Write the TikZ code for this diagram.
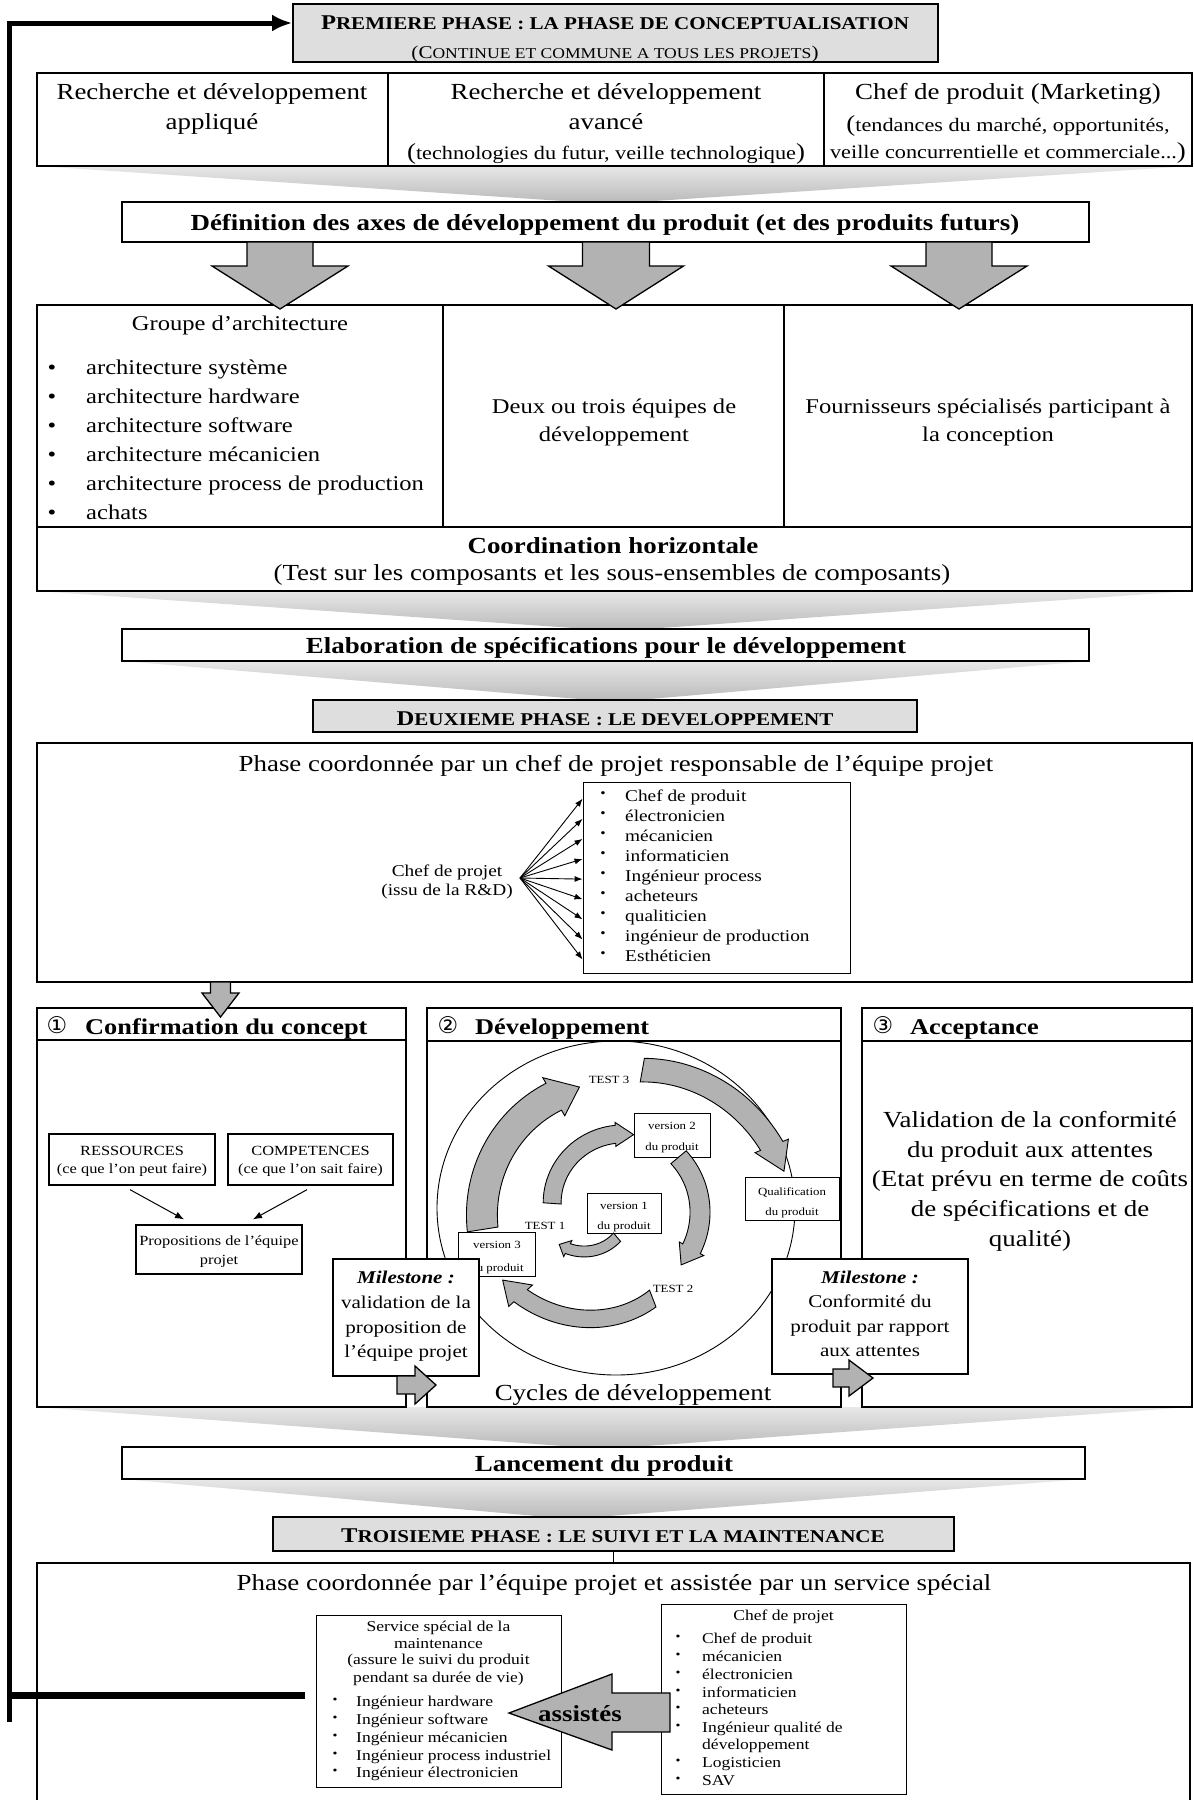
\documentclass[tikz,border=0pt]{standalone}
\usepackage{fontspec}
\setmainfont{Liberation Serif}[FakeStretch=1.17]
\newfontfamily\symf{DejaVu Sans}
\usetikzlibrary{arrows.meta,calc}
\newcommand\myfs[2]{\fontsize{#1}{#2}\selectfont}
\newcommand\mkbox[6]{\node[#1, minimum width={(#4-#2)*1pt}, minimum height={(#5-#3)*1pt}] (#6) at ({(#2+#4)/2},{(#3+#5)/2}) {};}
\newcommand\dnarrow[6]{\draw[barrow] ({#1-#5},#2) -- ({#1+#5},#2) -- ({#1+#5},#3) -- ({#1+#6},#3) -- (#1,#4) -- ({#1-#6},#3) -- ({#1-#5},#3) -- cycle;}
\newcommand\rtarrow[6]{\draw[barrow] (#1,{#4-#5}) -- (#2,{#4-#5}) -- (#2,{#4-#6}) -- (#3,#4) -- (#2,{#4+#6}) -- (#2,{#4+#5}) -- (#1,{#4+#5}) -- cycle;}
\newcommand\sparr[9]{%
  \pgfmathsetmacro\spk{(#7-#6)/(#5-#3)}%
  \pgfmathsetmacro\sprb{#6+\spk*(#4-#3)}%
  \filldraw[cyc] plot[domain=#3:#4, samples=40] ({#1+(#6+\spk*(\x-#3)+#8)*cos(\x)}, {#2-(#6+\spk*(\x-#3)+#8)*sin(\x)})
    -- ({#1+(\sprb+#9)*cos(#4)}, {#2-(\sprb+#9)*sin(#4)})
    -- ({#1+#7*cos(#5)}, {#2-#7*sin(#5)})
    -- ({#1+(\sprb-#9)*cos(#4)}, {#2-(\sprb-#9)*sin(#4)})
    -- plot[domain=#4:#3, samples=40] ({#1+(#6+\spk*(\x-#3)-#8)*cos(\x)}, {#2-(#6+\spk*(\x-#3)-#8)*sin(\x)})
    -- cycle;}
\begin{document}
\begin{tikzpicture}[x=1pt,y=-1pt,
  box/.style={draw, line width=1.8pt, fill=white, inner sep=0},
  sbox/.style={draw, line width=1.3pt, fill=white, inner sep=0},
  tbox/.style={draw, line width=0.9pt, fill=white, inner sep=0},
  hdr/.style={draw, line width=1.8pt, fill=black!13, inner sep=0},
  tx/.style={inner sep=0, anchor=base},
  txw/.style={inner sep=0, anchor=base west},
  barrow/.style={draw, line width=1.3pt, fill=black!30, line join=miter},
  cyc/.style={draw, line width=0.9pt, fill=black!30},
  funnel/.style={top color=black!9, bottom color=black!28},
  thinl/.style={line width=0.9pt},
  divl/.style={line width=1.8pt},
  f23/.style={font=\myfs{23}{28}},
  f23b/.style={font=\bfseries\myfs{23}{28}},
  f21/.style={font=\myfs{21}{25}},
  f19/.style={font=\myfs{19}{23}},
  f18/.style={font=\myfs{18}{22}},
  f16/.style={font=\myfs{16.5}{19}},
  f15/.style={font=\myfs{15}{18}},
  f14/.style={font=\myfs{14}{17}},
  f11/.style={font=\myfs{11}{13}},
  num/.style={inner sep=0, anchor=base, font=\symf\myfs{23}{23}},
  colh/.style={inner sep=0, anchor=base west, font=\bfseries\myfs{22.5}{26}},
]
\useasboundingbox[fill=white] (0,0) rectangle (1194,1800);

% funnels
\shade[funnel] (37,166) -- (1192,166) -- (608,204) -- cycle;
\shade[funnel] (37,591) -- (1192,591) -- (617,631) -- cycle;
\shade[funnel] (122,661) -- (1089,661) -- (615,702) -- cycle;
\shade[funnel] (37,1407) -- (1192,1407) -- (604,1449) -- cycle;
\shade[funnel] (122,1479) -- (1085,1479) -- (570,1519) -- cycle;

% ---------- phase 1 ----------
\mkbox{hdr}{293}{4}{938}{62}{hdrA}
\node[tx] (hA1) at (615,29) {\bfseries{\myfs{21}{21}P}{\myfs{18}{18}REMIERE PHASE : LA PHASE DE CONCEPTUALISATION}};
\node[tx] (hA2) at (615,58) {{\myfs{18}{18}(C}{\myfs{15}{15}ONTINUE ET COMMUNE A TOUS LES PROJETS}{\myfs{18}{18})}};

\mkbox{box}{37}{73}{1192}{166}{rowA}
\draw[divl] (388,73) -- (388,166);
\draw[divl] (824,73) -- (824,166);
\node[tx,f23] (r1a) at (212,99) {Recherche et développement};
\node[tx,f23] (r1b) at (212,129) {appliqué};
\node[tx,f23] (r2a) at (606,99) {Recherche et développement};
\node[tx,f23] (r2b) at (606,129) {avancé};
\node[tx,f19] (r2c) at (606,159) {{\myfs{23}{23}(}technologies du futur, veille technologique{\myfs{23}{23})}};
\node[tx,f23] (r3a) at (1008,99) {Chef de produit (Marketing)};
\node[tx,f19] (r3b) at (1008,131) {{\myfs{23}{23}(}tendances du marché, opportunités,};
\node[tx,f19] (r3c) at (1008,158) {veille concurrentielle et commerciale...{\myfs{23}{23})}};

\mkbox{box}{122}{202}{1089}{242}{defin}
\node[tx,f23b] (defint) at (605,230) {Définition des axes de développement du produit (et des produits futurs)};

\mkbox{box}{37}{305}{1192}{591}{rowB}
\draw[divl] (37,527) -- (1192,527);
\draw[divl] (443,305) -- (443,527);
\draw[divl] (784,305) -- (784,527);
\dnarrow{280}{242}{266}{309}{33}{68}
\dnarrow{616}{242}{266}{309}{33.5}{67.5}
\dnarrow{959}{242}{266}{309}{33}{68}

\node[tx,f21] (grp) at (240,330) {Groupe d’architecture};
\foreach \lbl/\yy [count=\i] in {architecture système/374, architecture hardware/403, architecture software/432, architecture mécanicien/461, architecture process de production/490, achats/519}{
  \node[tx,f21] (gb\i) at (52,\yy) {•};
  \node[txw,f21] (gi\i) at (86,\yy) {\lbl};
}
\node[tx,f21] (deux1) at (614,413) {Deux ou trois équipes de};
\node[tx,f21] (deux2) at (614,441) {développement};
\node[tx,f21] (four1) at (988,413) {Fournisseurs spécialisés participant à};
\node[tx,f21] (four2) at (988,441) {la conception};
\node[tx,f23b] (coord1) at (613,553) {Coordination horizontale};
\node[tx,f23] (coord2) at (612,580) {(Test sur les composants et les sous-ensembles de composants)};

\mkbox{box}{122}{629}{1089}{661}{elab}
\node[tx,f23b] (elabt) at (606,653) {Elaboration de spécifications pour le développement};

% ---------- phase 2 ----------
\mkbox{hdr}{313}{700}{917}{732}{hdrB}
\node[tx] (hB) at (615,725) {\bfseries{\myfs{21}{21}D}{\myfs{18}{18}EUXIEME PHASE : LE DEVELOPPEMENT}};

\mkbox{box}{37}{743}{1192}{982}{ph2}
\node[tx,f23] (ph2t) at (616,771) {Phase coordonnée par un chef de projet responsable de l’équipe projet};
\node[tx,f16] (chefp) at (447,876) {Chef de projet};
\node[tx,f16] (issu) at (447,895) {(issu de la R\&D)};
\coordinate (hub) at (520,878);
\mkbox{tbox}{583}{782}{850}{973}{lst}
\foreach \lbl [count=\i] in {Chef de produit, électronicien, mécanicien, informaticien, Ingénieur process, acheteurs, qualiticien, ingénieur de production, Esthéticien}{
  \pgfmathsetmacro\yy{801+20.1*(\i-1)}
  \node[tx,font=\myfs{13}{13}] (lb\i) at (603,{\yy-4}) {•};
  \node[txw,f16] (li\i) at (625,\yy) {\lbl};
  \draw[thinl,-{Latex[length=8pt,width=6pt]}] (hub) -- (lst.west |- li\i.mid);
}

% ---------- three columns ----------
\mkbox{box}{37}{1008}{406}{1407}{colA}
\draw[divl] (37,1040) -- (406,1040);
\mkbox{box}{427}{1008}{841}{1407}{colB}
\draw[divl] (427,1041) -- (841,1041);
\mkbox{box}{862}{1008}{1192}{1407}{colC}
\draw[divl] (862,1041) -- (1192,1041);
\dnarrow{220.5}{982}{993}{1017}{10}{18.5}

\node[num] (n1) at (57,1033) {①};
\node[colh] (hcA) at (85,1034) {Confirmation du concept};
\node[num] (n2) at (448,1033) {②};
\node[colh] (hcB) at (475,1034) {Développement};
\node[num] (n3) at (883,1033) {③};
\node[colh] (hcC) at (910,1034) {Acceptance};

% column 1
\mkbox{sbox}{49}{1134}{215}{1185}{res}
\node[tx,f14] (res1) at (132,1155) {RESSOURCES};
\node[tx,f14] (res2) at (132,1173) {(ce que l’on peut faire)};
\mkbox{sbox}{228}{1134}{393}{1185}{comp}
\node[tx,f14] (comp1) at (310.5,1155) {COMPETENCES};
\node[tx,f14] (comp2) at (310.5,1173) {(ce que l’on sait faire)};
\mkbox{sbox}{136}{1225}{302}{1274}{prop}
\node[tx,f14] (prop1) at (219,1245) {Propositions de l’équipe};
\node[tx,f14] (prop2) at (219,1264) {projet};
\draw[line width=1pt,-{Latex[length=9pt,width=7pt]}] ($(res.south)+(-2,4)$) -- ($(prop.north)+(-35,-5)$);
\draw[line width=1pt,-{Latex[length=9pt,width=7pt]}] ($(comp.south)+(-3.5,4)$) -- ($(prop.north)+(34,-5)$);

% column 2 : cycles
\draw[thinl] (616,1208) ellipse [x radius=179, y radius=167];
\mkbox{tbox}{634}{1113}{710}{1157}{v2}
\node[tx,f11] (v2a) at (672,1129) {version 2};
\node[tx,f11] (v2b) at (672,1150) {du produit};
\mkbox{tbox}{745}{1177}{839}{1220}{qual}
\node[tx,f11] (qa) at (792,1195) {Qualification};
\node[tx,f11] (qb) at (792,1215) {du produit};
\mkbox{tbox}{587}{1193}{661}{1233}{v1}
\node[tx,f11] (v1a) at (624,1209) {version 1};
\node[tx,f11] (v1b) at (624,1229) {du produit};
\mkbox{tbox}{458}{1232}{535}{1276}{v3}
\node[tx,f11] (v3a) at (497,1248) {version 3};
\node[tx,f11] (v3b) at (497,1271) {du produit};
\node[tx,f11] (t1) at (545,1229) {TEST 1};
\node[tx,f11] (t2) at (673,1292) {TEST 2};
\node[tx,f11] (t3) at (609,1083) {TEST 3};
\sparr{618}{1208}{189}{120}{107.7}{137}{127}{15.5}{22}
\sparr{618}{1208}{80}{22}{12.5}{140}{170}{12}{18}
\sparr{618}{1208}{291}{222}{212}{97}{136}{9}{16}
\sparr{590}{1205}{310}{243}{232}{42}{50}{5.5}{9}
\sparr{618}{1208}{176}{92}{78}{66}{75}{9}{12}
\sparr{618}{1208}{40}{-29}{-42}{79}{85}{10}{14}
\node[tx,f23] (cyc) at (633,1400) {Cycles de développement};

% milestones
\mkbox{sbox}{333}{1259}{479}{1376}{ms1}
\node[tx,f18] (ms1a) at (406,1283) {\bfseries\itshape Milestone :};
\node[tx,f18] (ms1b) at (406,1308) {validation de la};
\node[tx,f18] (ms1c) at (406,1333) {proposition de};
\node[tx,f18] (ms1d) at (406,1357) {l’équipe projet};
\rtarrow{397}{415}{436}{1385}{9}{19}
\mkbox{sbox}{772}{1259}{968}{1374}{ms2}
\node[tx,f18] (ms2a) at (870,1283) {\bfseries\itshape Milestone :};
\node[tx,f18] (ms2b) at (870,1307) {Conformité du};
\node[tx,f18] (ms2c) at (870,1332) {produit par rapport};
\node[tx,f18] (ms2d) at (870,1356) {aux attentes};
\rtarrow{833}{849}{873}{1378}{9}{18}

% column 3
\node[tx,f23] (acc1) at (1030,1127) {Validation de la conformité};
\node[tx,f23] (acc2) at (1030,1157) {du produit aux attentes};
\node[tx,f23] (acc3) at (1030,1186) {(Etat prévu en terme de coûts};
\node[tx,f23] (acc4) at (1030,1216) {de spécifications et de};
\node[tx,f23] (acc5) at (1030,1246) {qualité)};

% ---------- launch & phase 3 ----------
\mkbox{box}{122}{1447}{1085}{1479}{lanc}
\node[tx,f23b] (lanct) at (604,1471) {Lancement du produit};
\mkbox{hdr}{273}{1517}{954}{1551}{hdrC}
\node[tx] (hC) at (613,1542) {\bfseries{\myfs{21}{21}T}{\myfs{18}{18}ROISIEME PHASE : LE SUIVI ET LA MAINTENANCE}};
\mkbox{box}{37}{1563}{1190}{1830}{ph3}
\draw[divl] (hdrC.south) -- (ph3.north -| hdrC.south);
\node[tx,f23] (ph3t) at (614,1590) {Phase coordonnée par l’équipe projet et assistée par un service spécial};

\mkbox{tbox}{316}{1615}{561}{1787}{serv}
\node[tx,f15] (s1) at (438.5,1631) {Service spécial de la};
\node[tx,f15] (s2) at (438.5,1648) {maintenance};
\node[tx,f15] (s3) at (438.5,1664) {(assure le suivi du produit};
\node[tx,f15] (s4) at (438.5,1682) {pendant sa durée de vie)};
\foreach \lbl/\yy [count=\i] in {Ingénieur hardware/1706, Ingénieur software/1724, Ingénieur mécanicien/1742, Ingénieur process industriel/1760, Ingénieur électronicien/1777}{
  \node[tx,font=\myfs{12}{12}] (sb\i) at (335,{\yy-3}) {•};
  \node[txw,f15] (si\i) at (356,\yy) {\lbl};
}
\mkbox{tbox}{661}{1604}{906}{1794}{chef3}
\node[tx,f15] (c0) at (783.5,1620) {Chef de projet};
\foreach \lbl/\yy [count=\i] in {Chef de produit/1643, mécanicien/1661, électronicien/1679, informaticien/1697, acheteurs/1714, Ingénieur qualité de/1732, Logisticien/1767, SAV/1785}{
  \node[tx,font=\myfs{12}{12}] (cb\i) at (678,{\yy-3}) {•};
  \node[txw,f15] (ci\i) at (702,\yy) {\lbl};
}
\node[txw,f15] (ci9) at (702,1749) {développement};
\draw[barrow] (509,1713) -- (612,1674) -- (612,1693) -- (670,1693) -- (670,1732) -- (612,1732) -- (612,1750) -- cycle;
\node[tx,f23b] (assist) at (580,1721) {assistés};

% ---------- feedback loop ----------
\coordinate (lpTop) at (9,23);
\coordinate (lpBot) at (9,1722);
\coordinate (lpJoin) at (9,1695);
\coordinate (lpEnd) at (305,1695);
\draw[line width=5pt, line join=miter, -{Latex[length=20pt,width=17pt]}] (lpBot) -- (lpTop) -- (hdrA.west |- lpTop);
\draw[line width=7pt] (lpJoin) -- (lpEnd);
\end{tikzpicture}
\end{document}
